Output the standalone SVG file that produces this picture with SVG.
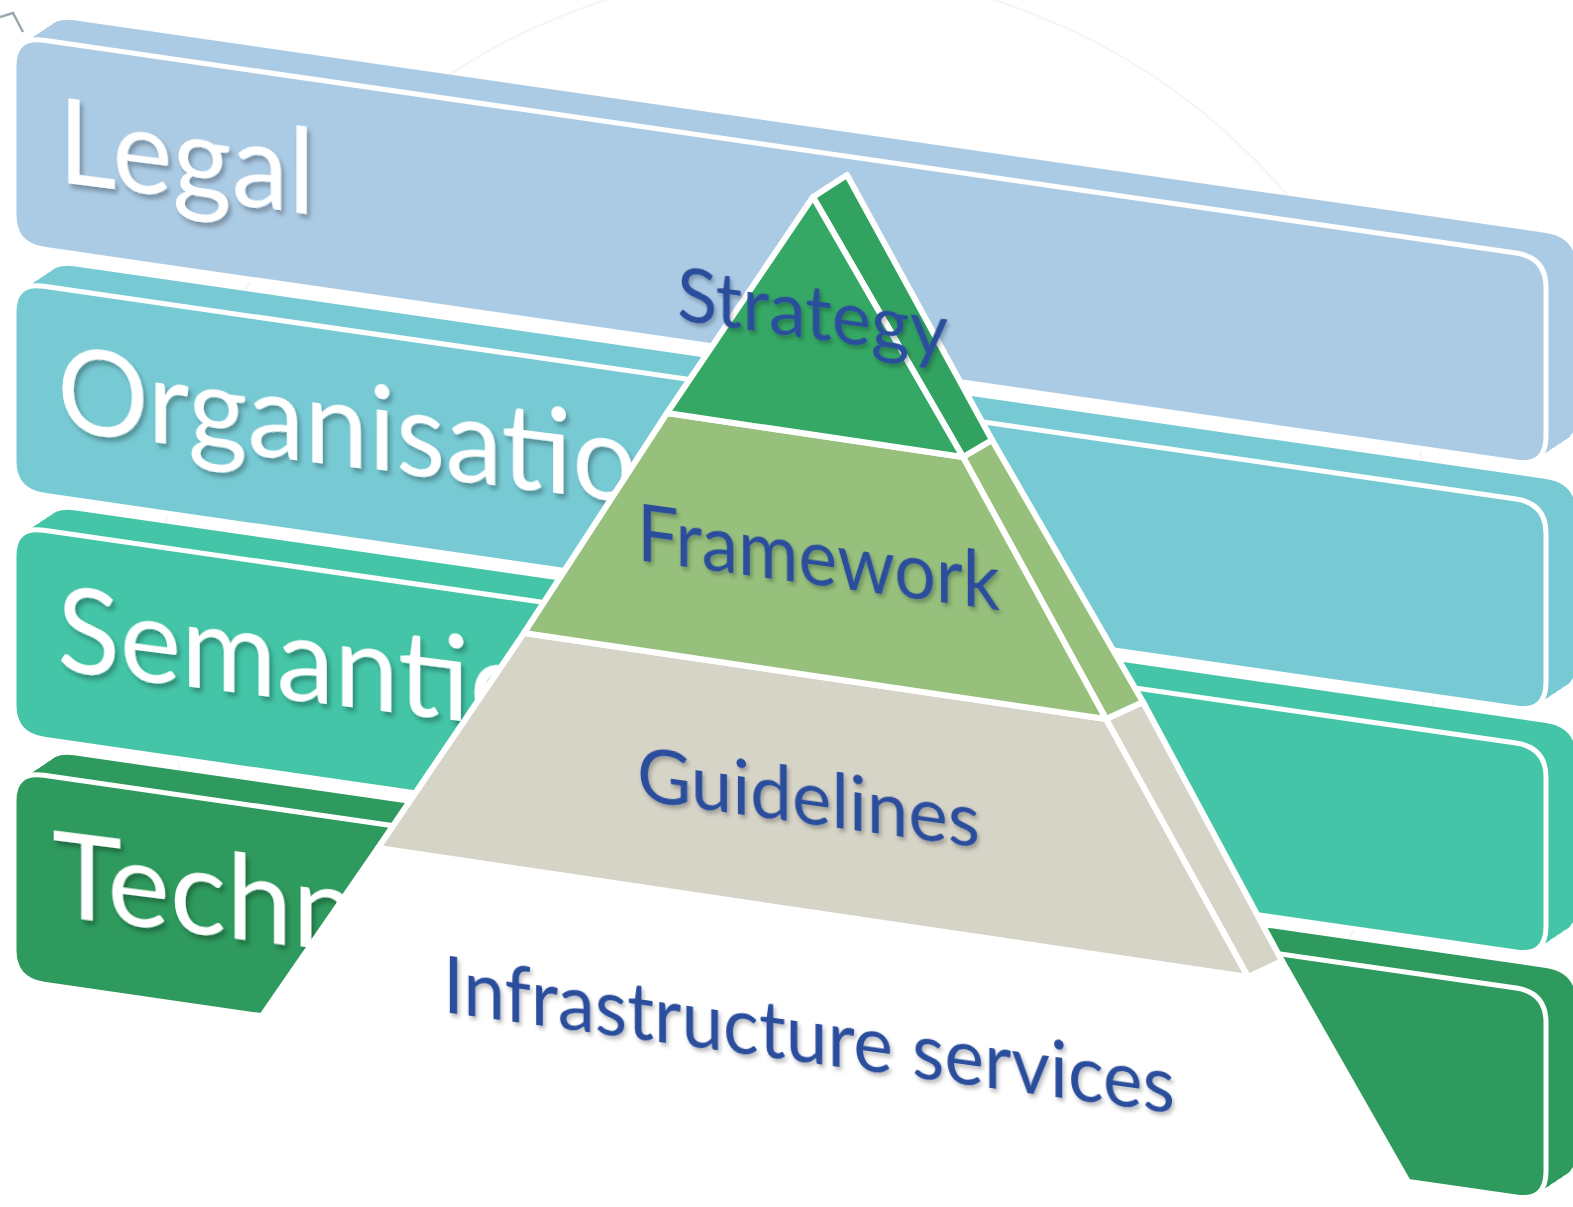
<svg xmlns="http://www.w3.org/2000/svg" xmlns:xlink="http://www.w3.org/1999/xlink" width="1573" height="1207" viewBox="0 0 1573 1207">
<style>
.face{stroke:#ffffff;stroke-width:5;stroke-linejoin:round}
.pyr{stroke:#ffffff;stroke-width:6;stroke-linejoin:round}
.lbl{font-family:Lato,"Open Sans","Liberation Sans",sans-serif;font-size:118px;fill:#ffffff}
.plbl{font-family:Lato,"Open Sans","Liberation Sans",sans-serif;fill:#2C4E9C}
.legal{fill:#ABCBE5}
.org{fill:#77CAD4}
.sem{fill:#44C5A7}
.tech{fill:#2E9A5D}
</style>
<defs>
<path id="band" d="M 44,4.3 L 1516,217 Q 1546,221.4 1546,251.4 L 1546,400.4 Q 1546,430.4 1516,426 L 44,213.3 Q 14,209 14,179 L 14,30 Q 14,0 44,4.3 Z"/>
<g id="ext">
<use xlink:href="#band" transform="translate(6,-4)"/>
<use xlink:href="#band" transform="translate(12,-8)"/>
<use xlink:href="#band" transform="translate(18,-12)"/>
<use xlink:href="#band" transform="translate(24,-16)"/>
<use xlink:href="#band" transform="translate(30,-20)"/>
</g>
<filter id="shw" x="-10%" y="-30%" width="125%" height="170%">
<feDropShadow dx="3" dy="4" stdDeviation="2.5" flood-color="#000000" flood-opacity="0.3"/>
</filter>
<filter id="shb" x="-10%" y="-30%" width="125%" height="170%">
<feDropShadow dx="2" dy="3" stdDeviation="2" flood-color="#000000" flood-opacity="0.28"/>
</filter>
</defs>

<g id="background" fill="none" stroke="#F3F5F7" stroke-width="2">
<circle cx="800" cy="610" r="640"/>
<polyline points="0,17 13,13 23,32" stroke="#9AA8B0" stroke-width="2.5"/>
</g>

<g id="layer-legal" class="legal">
<use xlink:href="#ext" transform="translate(0,36)"/>
<use xlink:href="#band" class="face" transform="translate(0,36)"/>
<g transform="translate(58,182) skewY(7.2)"><text class="lbl" filter="url(#shw)" textLength="257" lengthAdjust="spacingAndGlyphs">Legal</text></g>
</g>

<g id="layer-organisation" class="org">
<use xlink:href="#ext" transform="translate(0,282)"/>
<use xlink:href="#band" class="face" transform="translate(0,282)"/>
<g transform="translate(57,430) skewY(7.2)"><text class="lbl" filter="url(#shw)" textLength="644" lengthAdjust="spacingAndGlyphs">Organisation</text></g>
</g>

<g id="layer-semantic" class="sem">
<use xlink:href="#ext" transform="translate(0,526)"/>
<use xlink:href="#band" class="face" transform="translate(0,526)"/>
<g transform="translate(57,670) skewY(7.2)"><text class="lbl" filter="url(#shw)" textLength="468" lengthAdjust="spacingAndGlyphs">Semantic</text></g>
</g>

<g id="layer-technical" class="tech">
<use xlink:href="#ext" transform="translate(0,771)"/>
<use xlink:href="#band" class="face" transform="translate(0,771)"/>
<g transform="translate(52,915) skewY(7.2)"><text class="lbl" filter="url(#shw)" textLength="478" lengthAdjust="spacingAndGlyphs">Technical</text></g>
</g>

<g id="pyramid-infrastructure">
<polygon class="pyr" fill="#ffffff" points="378,848 1248,977 1282,961 1424,1210 128,1210"/>
<g transform="translate(443,1012) skewY(7.9)"><text class="plbl" font-size="80" filter="url(#shb)" textLength="732" lengthAdjust="spacingAndGlyphs">Infrastructure services</text></g>
</g>

<g id="pyramid-guidelines">
<polygon class="pyr" fill="#D6D3C7" points="1106,719 1143,702 1282,961 1248,977"/>
<polygon class="pyr" fill="#D6D3C7" points="524,633 1106,719 1248,977 378,848"/>
<g transform="translate(637,800) skewY(7.9)"><text class="plbl" font-size="76" filter="url(#shb)" textLength="343" lengthAdjust="spacingAndGlyphs">Guidelines</text></g>
</g>

<g id="pyramid-framework">
<polygon class="pyr" fill="#97C07D" points="963,457 992,440 1143,702 1106,719"/>
<polygon class="pyr" fill="#97C07D" points="667,413 963,457 1106,719 524,633"/>
<g transform="translate(637,560) skewY(7.9)"><text class="plbl" font-size="80" filter="url(#shb)" textLength="363" lengthAdjust="spacingAndGlyphs">Framework</text></g>
</g>

<g id="pyramid-strategy">
<polygon class="pyr" fill="#32A261" points="813,197 847,175 992,440 963,457"/>
<polygon class="pyr" fill="#35A865" points="813,197 963,457 667,413"/>
<g transform="translate(677,320) skewY(7.9)"><text class="plbl" font-size="76" filter="url(#shb)" textLength="271" lengthAdjust="spacingAndGlyphs">Strategy</text></g>
</g>

<g id="connectors"></g>
</svg>
